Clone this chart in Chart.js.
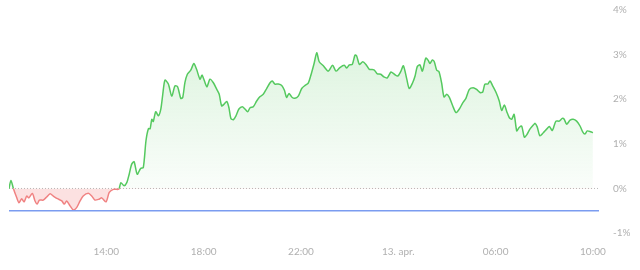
<!DOCTYPE html>
<html>
<head>
<meta charset="utf-8">
<script src="https://cdn.jsdelivr.net/npm/chart.js@4/dist/chart.umd.min.js"></script>
<style>
    html, body { margin: 0; padding: 0; background: #fff; }
    #wrap { width: 640px; height: 270px; }
</style>
</head>
<body>
<div id="wrap"><canvas id="change-chart" width="640" height="270"></canvas></div>
<script>
// hours since midnight on 12. apr. (24 = midnight, 34 = 10:00 on 13. apr.)
const hours = [
    10.00, 10.08, 10.18, 10.32, 10.41, 10.52, 10.62, 10.73, 10.82, 10.96,
    11.07, 11.16, 11.25, 11.41, 11.55, 11.69, 11.82, 11.99, 12.17, 12.27,
    12.37, 12.51, 12.64, 12.78, 12.92, 13.05, 13.26, 13.40, 13.53, 13.70,
    13.81, 13.99, 14.12, 14.29, 14.49, 14.53, 14.60, 14.73, 14.84, 14.94,
    15.04, 15.14, 15.27, 15.41, 15.52, 15.63, 15.73, 15.80, 15.87, 15.93,
    16.03, 16.14, 16.24, 16.32, 16.41, 16.55, 16.69, 16.82, 16.93, 17.06,
    17.14, 17.23, 17.33, 17.47, 17.60, 17.71, 17.85, 17.94, 18.13, 18.26,
    18.40, 18.54, 18.64, 18.74, 18.84, 18.95, 19.04, 19.12, 19.22, 19.33,
    19.45, 19.59, 19.70, 19.81, 19.91, 20.04, 20.18, 20.32, 20.45, 20.59,
    20.73, 20.82, 20.93, 21.07, 21.21, 21.32, 21.41, 21.51, 21.62, 21.75,
    21.89, 22.03, 22.17, 22.30, 22.44, 22.54, 22.65, 22.75, 22.92, 23.12,
    23.30, 23.44, 23.60, 23.78, 23.88, 23.99, 24.11, 24.22, 24.29, 24.40,
    24.54, 24.67, 24.81, 25.00, 25.14, 25.28, 25.41, 25.55, 25.70, 25.84,
    25.98, 26.10, 26.21, 26.35, 26.45, 26.59, 26.69, 26.78, 26.89, 26.99,
    27.13, 27.23, 27.30, 27.40, 27.48, 27.58, 27.67, 27.78, 27.88, 27.99,
    28.10, 28.24, 28.37, 28.51, 28.65, 28.78, 28.92, 29.08, 29.22, 29.36,
    29.47, 29.56, 29.68, 29.77, 29.88, 30.02, 30.15, 30.25, 30.36, 30.46,
    30.56, 30.66, 30.76, 30.87, 30.96, 31.07, 31.18, 31.28, 31.41, 31.55,
    31.62, 31.71, 31.82, 31.96, 32.10, 32.21, 32.33, 32.48, 32.62, 32.74,
    32.82, 32.92, 33.06, 33.19, 33.33, 33.47, 33.58, 33.67, 33.77, 33.91,
    34.00,
]

// change in percent
const change = [
    0.00, 0.18, 0.00, -0.21, -0.32, -0.23, -0.30, -0.17, -0.21, -0.11,
    -0.28, -0.35, -0.26, -0.26, -0.19, -0.12, -0.17, -0.23, -0.28, -0.35,
    -0.28, -0.39, -0.48, -0.43, -0.28, -0.17, -0.11, -0.17, -0.26, -0.24,
    -0.21, -0.30, -0.09, -0.02, -0.02, 0.00, 0.13, 0.06, 0.13, 0.32,
    0.54, 0.60, 0.32, 0.45, 0.47, 1.07, 1.34, 1.34, 1.55, 1.50,
    1.72, 1.63, 1.78, 2.11, 2.43, 2.34, 2.07, 2.30, 2.28, 2.02,
    2.04, 2.37, 2.56, 2.65, 2.80, 2.67, 2.45, 2.54, 2.28, 2.45,
    2.37, 2.22, 2.11, 1.85, 1.89, 1.95, 1.81, 1.57, 1.54, 1.63,
    1.78, 1.83, 1.78, 1.72, 1.81, 1.83, 1.96, 2.06, 2.11, 2.24,
    2.37, 2.41, 2.34, 2.34, 2.31, 2.20, 2.04, 2.13, 2.05, 2.02,
    2.07, 2.24, 2.31, 2.36, 2.60, 2.80, 3.04, 2.84, 2.75, 2.63,
    2.76, 2.63, 2.71, 2.76, 2.70, 2.77, 2.78, 2.99, 2.97, 2.78,
    2.84, 2.78, 2.67, 2.66, 2.57, 2.56, 2.50, 2.48, 2.61, 2.56,
    2.52, 2.62, 2.75, 2.45, 2.24, 2.37, 2.52, 2.73, 2.77, 2.63,
    2.92, 2.87, 2.80, 2.88, 2.84, 2.65, 2.62, 2.37, 2.05, 2.11,
    2.04, 1.85, 1.70, 1.78, 1.92, 2.02, 2.22, 2.26, 2.22, 2.15,
    2.16, 2.34, 2.34, 2.41, 2.30, 2.15, 1.96, 1.75, 1.87, 1.72,
    1.59, 1.55, 1.66, 1.29, 1.36, 1.40, 1.15, 1.20, 1.33, 1.42,
    1.46, 1.38, 1.18, 1.25, 1.33, 1.39, 1.30, 1.51, 1.51, 1.57,
    1.55, 1.44, 1.53, 1.55, 1.51, 1.40, 1.27, 1.22, 1.29, 1.27,
    1.25,
]

const refLevel = -0.5
const xTickValues = [14, 18, 22, 26, 30, 34]
const xTickLabels = ["14:00", "18:00", "22:00", "13. apr.", "06:00", "10:00"]
const yTickValues = [-1, 0, 1, 2, 3, 4]

const xMin = 10
const xMax = 34.25

const GREEN = "#55c95f"
const RED = "#f08282"

function buildPoints() {
    const pts = []
    for (let i = 0; i < hours.length; i++) {
        pts.push({ x: hours[i], y: change[i] })
    }
    return pts
}

function areaFill(context) {
    const chart = context.chart
    const area = chart.chartArea
    let above = "rgba(90,200,98,0.12)"
    if (area) {
        const y0 = chart.scales.y.getPixelForValue(0)
        const g = chart.ctx.createLinearGradient(0, area.top + 40, 0, y0)
        g.addColorStop(0, "rgba(90,200,98,0.20)")
        g.addColorStop(1, "rgba(90,200,98,0.03)")
        above = g
    }
    return {
        target: { value: 0 },
        above: above,
        below: "rgba(240,120,120,0.22)",
    }
}

const canvas = document.getElementById("change-chart")
const chart = new Chart(canvas, {
    type: "line",
    data: {
        datasets: [
            {
                label: "change",
                data: buildPoints(),
                borderColor: GREEN,
                borderWidth: 1.5,
                pointRadius: 0,
                tension: 0.25,
                fill: areaFill,
                segment: {
                    borderColor: (ctx) =>
                        Math.min(ctx.p0.parsed.y, ctx.p1.parsed.y) < 0 ? RED : GREEN,
                },
                order: 2,
            },
            {
                label: "reference",
                data: [
                    { x: xMin, y: refLevel },
                    { x: xMax, y: refLevel },
                ],
                borderColor: "#7b9cf0",
                borderWidth: 1.5,
                pointRadius: 0,
                fill: false,
                order: 1,
            },
            {
                label: "zero",
                data: [
                    { x: xMin, y: 0 },
                    { x: xMax, y: 0 },
                ],
                borderColor: "#b8b8b8",
                borderWidth: 1,
                borderDash: [1, 2],
                pointRadius: 0,
                fill: false,
                order: 3,
            },
        ],
    },
    options: {
        responsive: false,
        animation: false,
        layout: {
            padding: { left: 9, right: 10, top: 0, bottom: 8 },
        },
        plugins: {
            legend: { display: false },
            tooltip: { enabled: false },
        },
        scales: {
            x: {
                type: "linear",
                min: xMin,
                max: xMax,
                grid: { display: false, drawTicks: false },
                border: { display: false },
                afterBuildTicks: (scale) => {
                    scale.ticks = xTickValues.map((v) => ({ value: v }))
                },
                ticks: {
                    color: "#b0b0b0",
                    font: { family: "Lato", size: 10 },
                    padding: 4,
                    maxRotation: 0,
                    autoSkip: false,
                    callback: (v) => {
                        const i = xTickValues.indexOf(v)
                        return i >= 0 ? xTickLabels[i] : ""
                    },
                },
            },
            y: {
                position: "right",
                min: -1.2,
                max: 4,
                // tick marks are hidden, their length only pushes the labels right
                grid: { display: false, drawTicks: true, tickLength: 10 },
                border: { display: false },
                afterBuildTicks: (scale) => {
                    scale.ticks = yTickValues.map((v) => ({ value: v }))
                },
                afterFit: (scale) => {
                    scale.width = 31
                },
                ticks: {
                    color: "#b0b0b0",
                    font: { family: "Lato", size: 10 },
                    padding: 4,
                    crossAlign: "near",
                    callback: (v) => v + "%",
                },
            },
        },
    },
})
</script>
</body>
</html>
